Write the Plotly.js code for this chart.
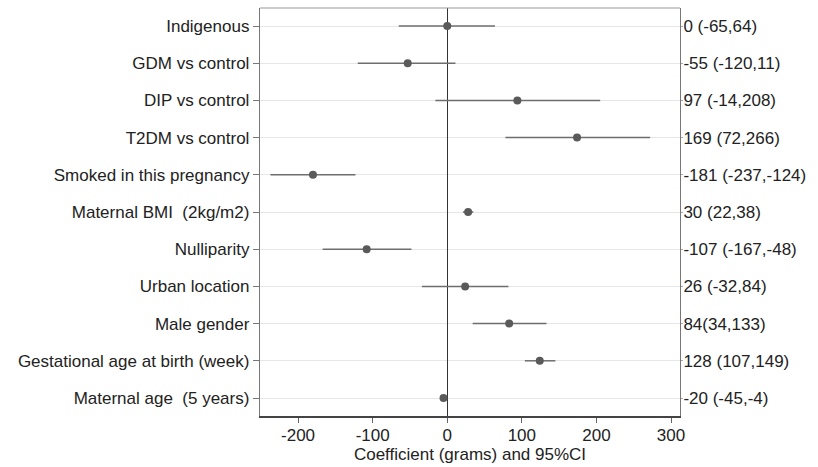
<!DOCTYPE html>
<html>
<head>
<meta charset="utf-8">
<script src="https://cdn.plot.ly/plotly-3.0.1.min.js"></script>
<style>html,body{margin:0;padding:0;background:#fff;}#chart{width:818px;height:467px;}</style>
</head>
<body>
<div id="chart"></div>
<script>
// Data
var categories = [
  "Indigenous", "GDM vs control", "DIP vs control", "T2DM vs control",
  "Smoked in this pregnancy", "Maternal BMI  (2kg/m2)", "Nulliparity",
  "Urban location", "Male gender", "Gestational age at birth (week)",
  "Maternal age  (5 years)"
];
var estimates = [0, -53, 94, 174, -180, 28, -108, 24, 83, 124, -5];
var ciLower   = [-65, -120, -16, 78, -237, 21, -167, -34, 34, 104, -8];
var ciUpper   = [64, 11, 205, 272, -123, 35, -48, 82, 133, 145, -3];
var rightLabels = [
  "0 (-65,64)", "-55 (-120,11)", "97 (-14,208)", "169 (72,266)",
  "-181 (-237,-124)", "30 (22,38)", "-107 (-167,-48)", "26 (-32,84)",
  "84(34,133)", "128 (107,149)", "-20 (-45,-4)"
];
var xTicks = [-200, -100, 0, 100, 200, 300];

var idx = categories.map(function (_, i) { return i; });
var errPlus = estimates.map(function (v, i) { return ciUpper[i] - v; });
var errMinus = estimates.map(function (v, i) { return v - ciLower[i]; });

var font = {family: "Liberation Sans, Arial, sans-serif", size: 17, color: "#222"};

var traces = [
  {
    type: "scatter", mode: "markers",
    x: estimates, y: idx,
    marker: {color: "#5a5a5a", size: 8},
    error_x: {type: "data", symmetric: false, array: errPlus, arrayminus: errMinus,
              color: "#6e6e6e", thickness: 1.5, width: 0},
    hoverinfo: "skip", showlegend: false
  },
  {
    type: "scatter", mode: "markers",
    x: estimates, y: idx, yaxis: "y2",
    marker: {opacity: 0}, hoverinfo: "skip", showlegend: false
  }
];

var yRange = [10.484, -0.484];

var layout = {
  width: 818, height: 467,
  margin: {l: 260, r: 138, t: 8, b: 51},
  paper_bgcolor: "#fff", plot_bgcolor: "#fff",
  font: font,
  xaxis: {
    range: [-251, 312],
    tickvals: xTicks, ticktext: xTicks.map(String),
    ticks: "outside", ticklen: 5, tickcolor: "#666", tickwidth: 1,
    showgrid: false,
    zeroline: true, zerolinecolor: "#333", zerolinewidth: 1.5,
    showline: true, linecolor: "#444", linewidth: 1.5,
    tickfont: font, ticklabelstandoff: -2,
    title: {text: "Coefficient (grams) and 95%CI", font: font, standoff: 0}
  },
  yaxis: {
    range: yRange,
    tickvals: idx, ticktext: categories,
    ticks: "outside", ticklen: 6, tickcolor: "#777", tickwidth: 1,
    showgrid: true, gridcolor: "#e6e6e6", gridwidth: 1,
    zeroline: false,
    showline: true, linecolor: "#777", linewidth: 1.2,
    tickfont: font
  },
  yaxis2: {
    overlaying: "y", side: "right",
    range: yRange,
    tickvals: idx, ticktext: rightLabels,
    ticks: "outside", ticklen: 2, tickcolor: "#aaa",
    ticklabelstandoff: -3,
    showgrid: false, zeroline: false,
    showline: true, linecolor: "#777", linewidth: 1,
    tickfont: font
  },
  shapes: [
    {type: "line", xref: "paper", yref: "paper", x0: 0, x1: 1, y0: 1, y1: 1,
     line: {color: "#999", width: 1}}
  ]
};

Plotly.newPlot("chart", traces, layout, {displayModeBar: false, staticPlot: true});
</script>
</body>
</html>
